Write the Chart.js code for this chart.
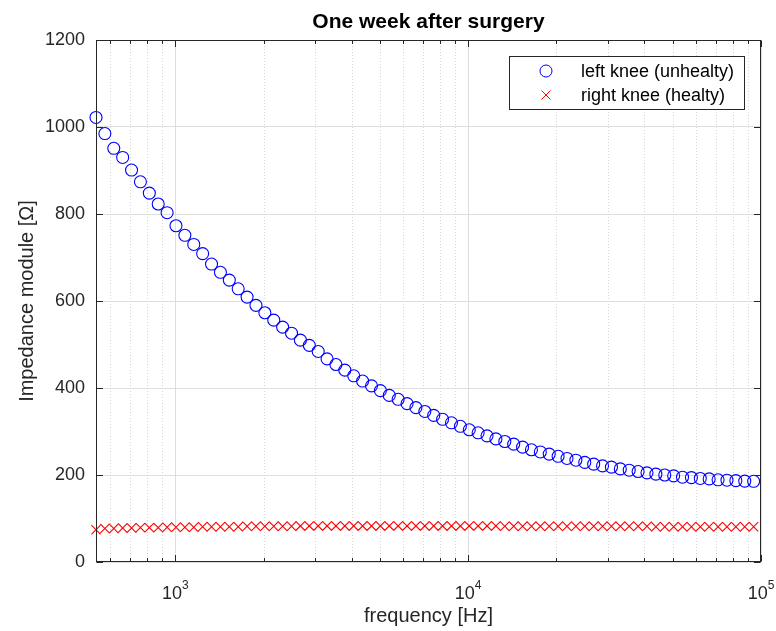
<!DOCTYPE html>
<html>
<head>
<meta charset="utf-8">
<script src="https://cdn.jsdelivr.net/npm/chart.js@4.4.1/dist/chart.umd.min.js"></script>
<style>
  body { margin: 0; background: #fff; }
  #wrap { width: 776px; height: 631px; position: relative; }
</style>
</head>
<body>
<div id="wrap"><canvas id="chart"></canvas></div>
<script>
// data
const freqHz = [535.8, 574.6, 616.2, 660.8, 708.6, 759.9, 814.9, 873.9, 937.2, 1005.0,
  1077.7, 1155.7, 1239.4, 1329.1, 1425.3, 1528.5, 1639.1, 1757.8, 1885.0, 2021.4,
  2167.7, 2324.6, 2492.9, 2673.3, 2866.8, 3074.3, 3296.8, 3535.4, 3791.3, 4065.7,
  4360.0, 4675.6, 5014.0, 5376.9, 5766.1, 6183.4, 6631.0, 7110.9, 7625.6, 8177.5,
  8769.4, 9404.1, 10084.8, 10814.7, 11597.5, 12436.9, 13337.1, 14302.4, 15337.6, 16447.7,
  17638.2, 18914.8, 20283.9, 21752.0, 23326.4, 25014.7, 26825.2, 28766.8, 30849.0, 33081.8,
  35476.2, 38044.0, 40797.6, 43750.5, 46917.1, 50313.0, 53954.5, 57859.7, 62047.5, 66538.4,
  71354.4, 76519.0, 82057.4, 87996.6, 94365.7];

const leftKnee = [1022, 985, 951, 930, 901, 874, 848, 823, 803, 773,
  751, 730, 709, 685, 666, 648, 628, 609, 590, 573,
  556, 540, 526, 510, 498, 484, 467, 454, 441, 428,
  416, 405, 394, 383, 374, 364, 355, 346, 337, 328,
  320, 312, 304, 297, 290, 283, 277, 271, 264, 258,
  253, 248, 243, 238, 234, 229, 225, 221, 218, 214,
  211, 208, 205, 202, 200, 198, 195, 194, 192, 191,
  189, 188, 187, 186, 185.5];

const rightKnee = [74, 77, 77, 78, 78, 79, 79, 79, 80, 80,
  80, 80, 81, 81, 81, 81, 81, 82, 82, 82,
  82, 82, 82, 83, 83, 83, 83, 83, 83, 83,
  83, 83, 83, 83, 83, 83, 83, 83, 83, 83,
  83, 83, 83, 83, 83, 83, 82, 82, 82, 82,
  82, 82, 82, 82, 82, 82, 82, 82, 82, 82,
  82, 82, 82, 81, 81, 81, 81, 81, 81, 81,
  81, 81, 81, 81, 81];

const seriesNames = ['left knee (unhealty)', 'right knee (healty)'];
const xMajorTicks = [1000, 10000, 100000];
const xMajorExp = ['3', '4', '5'];
const xMin = 535.8, xMax = 100000;
const yMin = 0, yMax = 1200, yStep = 200;

const AXIS = '#262626';
const FONT = 'Arial, "Liberation Sans", Helvetica, sans-serif';

function xMinorTicks() {
  const out = [];
  for (let d = 100; d < xMax; d *= 10) {
    for (let m = 2; m <= 9; m++) {
      const v = m * d;
      if (v > xMin && v < xMax) out.push(v);
    }
  }
  return out;
}

// grid, box, ticks, labels and legend drawn in MATLAB style
const matlabAxes = {
  id: 'matlabAxes',
  beforeDatasetsDraw(chart) {
    const ctx = chart.ctx, a = chart.chartArea, xs = chart.scales.x;
    ctx.save();
    ctx.lineWidth = 1;
    ctx.strokeStyle = '#d6d6d6';
    ctx.setLineDash([1, 2]);
    xMinorTicks().forEach(v => {
      const px = Math.round(xs.getPixelForValue(v)) + 0.5;
      ctx.beginPath();
      ctx.moveTo(px, a.top);
      ctx.lineTo(px, a.bottom);
      ctx.stroke();
    });
    ctx.setLineDash([]);
    ctx.strokeStyle = '#dedede';
    xMajorTicks.forEach(v => {
      const px = Math.round(xs.getPixelForValue(v)) + 0.5;
      ctx.beginPath();
      ctx.moveTo(px, a.top);
      ctx.lineTo(px, a.bottom);
      ctx.stroke();
    });
    ctx.restore();
  },
  afterDraw(chart) {
    const ctx = chart.ctx, a = chart.chartArea;
    const xs = chart.scales.x, ys = chart.scales.y;
    ctx.save();
    ctx.strokeStyle = AXIS;
    ctx.lineWidth = 1;
    const L = Math.round(a.left) + 0.5, R = Math.round(a.right) - 0.5;
    const T = Math.round(a.top) + 0.5, B = Math.round(a.bottom) - 0.5;
    ctx.strokeRect(L, T, R - L, B - T);

    // tick marks pointing inwards
    ctx.beginPath();
    xMajorTicks.forEach(v => {
      const px = Math.round(xs.getPixelForValue(v)) + 0.5;
      ctx.moveTo(px, B); ctx.lineTo(px, B - 6.5);
      ctx.moveTo(px, T); ctx.lineTo(px, T + 6.5);
    });
    xMinorTicks().forEach(v => {
      const px = Math.round(xs.getPixelForValue(v)) + 0.5;
      ctx.moveTo(px, B); ctx.lineTo(px, B - 3.5);
      ctx.moveTo(px, T); ctx.lineTo(px, T + 3.5);
    });
    for (let v = yMin; v <= yMax; v += yStep) {
      const py = Math.round(ys.getPixelForValue(v)) + 0.5;
      ctx.moveTo(L, py); ctx.lineTo(L + 6.5, py);
      ctx.moveTo(R, py); ctx.lineTo(R - 6.5, py);
    }
    ctx.stroke();

    // x tick labels 10^n
    ctx.fillStyle = AXIS;
    ctx.textBaseline = 'alphabetic';
    xMajorTicks.forEach((v, i) => {
      const px = xs.getPixelForValue(v);
      ctx.font = '18px ' + FONT;
      const wBase = ctx.measureText('10').width;
      ctx.font = '12px ' + FONT;
      const wExp = ctx.measureText(xMajorExp[i]).width;
      const x0 = px - (wBase + wExp) / 2;
      ctx.font = '18px ' + FONT;
      ctx.textAlign = 'left';
      ctx.fillText('10', x0, 599);
      ctx.font = '12px ' + FONT;
      ctx.fillText(xMajorExp[i], x0 + wBase, 589);
    });

    // axis titles
    ctx.textAlign = 'center';
    ctx.textBaseline = 'middle';
    ctx.font = '20px ' + FONT;
    ctx.fillText('frequency [Hz]', (a.left + a.right) / 2, 616);
    ctx.save();
    ctx.translate(27, (a.top + a.bottom) / 2);
    ctx.rotate(-Math.PI / 2);
    ctx.fillText('Impedance module [\u03A9]', 0, 0);
    ctx.restore();

    // title
    ctx.fillStyle = '#000';
    ctx.font = 'bold 21px ' + FONT;
    ctx.fillText('One week after surgery', (a.left + a.right) / 2, 22);

    // legend
    const lx = 509.5, ly = 56.5, lw = 235, lh = 53;
    ctx.fillStyle = '#fff';
    ctx.fillRect(lx, ly, lw, lh);
    ctx.strokeStyle = AXIS;
    ctx.strokeRect(lx, ly, lw, lh);
    ctx.lineWidth = 1;
    ctx.strokeStyle = '#0000ff';
    ctx.beginPath();
    ctx.arc(546, 71, 6, 0, Math.PI * 2);
    ctx.stroke();
    ctx.strokeStyle = '#ff0000';
    ctx.beginPath();
    ctx.moveTo(541.5, 90.5); ctx.lineTo(550.5, 99.5);
    ctx.moveTo(550.5, 90.5); ctx.lineTo(541.5, 99.5);
    ctx.stroke();
    ctx.fillStyle = '#000';
    ctx.font = '18px ' + FONT;
    ctx.textAlign = 'left';
    ctx.fillText(seriesNames[0], 581, 72);
    ctx.fillText(seriesNames[1], 581, 96);
    ctx.restore();
  }
};

new Chart(document.getElementById('chart'), {
  type: 'scatter',
  data: {
    datasets: [
      {
        label: seriesNames[0],
        data: freqHz.map((f, i) => ({ x: f, y: leftKnee[i] })),
        pointStyle: 'circle',
        pointRadius: 6,
        pointBorderWidth: 1.1,
        pointBorderColor: '#0000ff',
        pointBackgroundColor: 'rgba(0,0,0,0)',
        clip: false
      },
      {
        label: seriesNames[1],
        data: freqHz.map((f, i) => ({ x: f, y: rightKnee[i] })),
        pointStyle: 'crossRot',
        pointRadius: 6.5,
        pointBorderWidth: 1.1,
        pointBorderColor: '#ff0000',
        pointBackgroundColor: '#ff0000',
        clip: false
      }
    ]
  },
  plugins: [matlabAxes],
  options: {
    responsive: true,
    maintainAspectRatio: false,
    animation: false,
    layout: { padding: { top: 40, right: 15, left: 0, bottom: 0 } },
    plugins: {
      legend: { display: false },
      title: { display: false },
      tooltip: { enabled: false }
    },
    scales: {
      x: {
        type: 'logarithmic',
        min: xMin,
        max: xMax,
        grid: { display: false, drawTicks: false },
        border: { display: false },
        ticks: { display: false },
        afterFit: scale => { scale.height = 69; }
      },
      y: {
        type: 'linear',
        min: yMin,
        max: yMax,
        ticks: {
          stepSize: yStep,
          padding: 11,
          color: AXIS,
          font: { family: FONT, size: 18 },
          callback: value => String(value)
        },
        grid: { color: '#dedede', lineWidth: 1, drawTicks: false },
        border: { display: false },
        afterFit: scale => { scale.width = 96; }
      }
    }
  }
});
</script>
</body>
</html>
